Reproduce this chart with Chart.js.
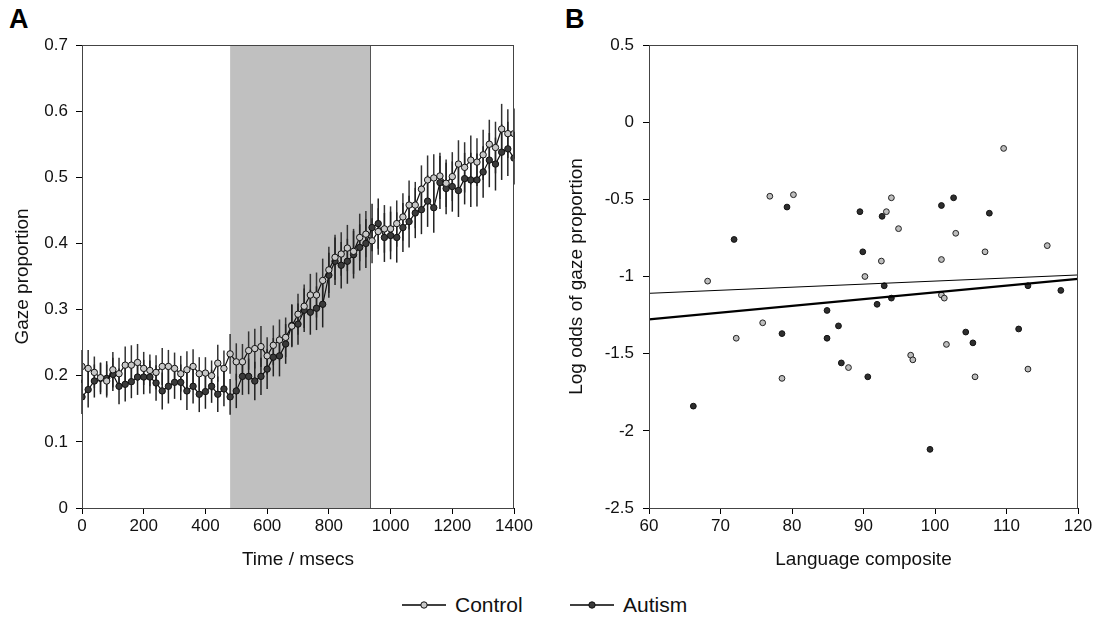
<!DOCTYPE html>
<html>
<head>
<meta charset="utf-8">
<script src="https://cdn.jsdelivr.net/npm/chart.js@4.4.1/dist/chart.umd.min.js"></script>
<style>
  body { margin: 0; background: #fff; width: 1101px; height: 617px; position: relative; overflow: hidden;
         font-family: "Liberation Sans", Arial, sans-serif; }
  .wrap { position: absolute; top: 0; height: 580px; }
  #wrapA { left: 0; width: 545px; }
  #wrapB { left: 550px; width: 551px; }
  .tag { position: absolute; top: 4px; font-weight: bold; font-size: 27px; color: #000; }
  .leg { position: absolute; top: 592px; height: 26px; display: flex; align-items: center; font-size: 21px; color: #111; }
  .leg svg { margin-right: 9px; }
</style>
</head>
<body>
<div class="tag" style="left:9px">A</div>
<div class="tag" style="left:565px">B</div>
<div class="wrap" id="wrapA"><canvas id="chartA"></canvas></div>
<div class="wrap" id="wrapB"><canvas id="chartB"></canvas></div>

<div class="leg" style="left:402px">
  <svg width="44" height="12"><line x1="0" y1="6" x2="44" y2="6" stroke="#000" stroke-width="1.5"/><circle cx="22" cy="6" r="3.2" fill="#c8c8c8" stroke="#111" stroke-width="1"/></svg>Control
</div>
<div class="leg" style="left:570px">
  <svg width="44" height="12"><line x1="0" y1="6" x2="44" y2="6" stroke="#000" stroke-width="1.5"/><circle cx="22" cy="6" r="3.2" fill="#3a3a3a" stroke="#111" stroke-width="1"/></svg>Autism
</div>

<script>
// ---- panel A: gaze proportion over time (20 ms bins) ----
const times = [];
for (let t = 0; t <= 1400; t += 20) times.push(t);

const controlGaze = [
  0.214, 0.211, 0.205, 0.197, 0.192, 0.209, 0.203, 0.216, 0.216, 0.220, 0.211, 0.208,
  0.205, 0.214, 0.214, 0.211, 0.203, 0.209, 0.214, 0.203, 0.204, 0.200, 0.219, 0.211,
  0.233, 0.221, 0.221, 0.238, 0.241, 0.244, 0.230, 0.246, 0.254, 0.258, 0.275, 0.293,
  0.305, 0.322, 0.322, 0.344, 0.360, 0.379, 0.384, 0.393, 0.388, 0.409, 0.414, 0.404,
  0.418, 0.422, 0.422, 0.430, 0.440, 0.458, 0.458, 0.482, 0.496, 0.499, 0.502, 0.491,
  0.501, 0.520, 0.515, 0.526, 0.523, 0.534, 0.550, 0.545, 0.573, 0.566, 0.566
];
const autismGaze = [
  0.168, 0.179, 0.192, 0.196, 0.196, 0.202, 0.184, 0.187, 0.191, 0.198, 0.198, 0.198,
  0.189, 0.177, 0.184, 0.190, 0.190, 0.177, 0.184, 0.172, 0.176, 0.184, 0.172, 0.180,
  0.168, 0.177, 0.199, 0.199, 0.192, 0.199, 0.210, 0.228, 0.230, 0.248, 0.276, 0.278,
  0.299, 0.296, 0.302, 0.308, 0.352, 0.373, 0.367, 0.373, 0.383, 0.394, 0.400, 0.424,
  0.430, 0.409, 0.412, 0.409, 0.424, 0.433, 0.446, 0.451, 0.464, 0.454, 0.492, 0.483,
  0.486, 0.480, 0.498, 0.496, 0.496, 0.508, 0.526, 0.520, 0.538, 0.543, 0.529
];
// standard errors (half-length of the bars)
const controlErr = [
  0.025, 0.028, 0.024, 0.022, 0.025, 0.027, 0.024, 0.028, 0.030, 0.028, 0.025, 0.024,
  0.026, 0.028, 0.025, 0.024, 0.027, 0.028, 0.026, 0.025, 0.024, 0.023, 0.028, 0.027,
  0.030, 0.028, 0.027, 0.029, 0.030, 0.031, 0.028, 0.030, 0.031, 0.030, 0.032, 0.031,
  0.033, 0.032, 0.034, 0.033, 0.035, 0.034, 0.033, 0.035, 0.034, 0.036, 0.035, 0.034,
  0.035, 0.036, 0.034, 0.035, 0.036, 0.037, 0.035, 0.036, 0.037, 0.036, 0.035, 0.036,
  0.037, 0.036, 0.038, 0.037, 0.036, 0.038, 0.037, 0.039, 0.038, 0.037, 0.038
];
const autismErr = [
  0.026, 0.027, 0.025, 0.024, 0.026, 0.025, 0.027, 0.026, 0.025, 0.027, 0.026, 0.025,
  0.027, 0.028, 0.026, 0.025, 0.027, 0.029, 0.026, 0.027, 0.026, 0.025, 0.027, 0.026,
  0.027, 0.026, 0.028, 0.027, 0.029, 0.028, 0.030, 0.029, 0.031, 0.030, 0.032, 0.031,
  0.033, 0.034, 0.033, 0.035, 0.034, 0.036, 0.035, 0.034, 0.036, 0.035, 0.037, 0.036,
  0.038, 0.037, 0.036, 0.038, 0.037, 0.039, 0.038, 0.037, 0.039, 0.038, 0.040, 0.039,
  0.038, 0.040, 0.039, 0.041, 0.040, 0.039, 0.041, 0.040, 0.042, 0.041, 0.040
];
const shadeStart = 480;
const shadeEnd = 935;

// ---- panel B: language composite vs log odds ----
const controlLang = [68.2, 76.9, 80.2, 72.2, 75.9, 78.6, 87.9, 109.6, 93.9, 93.2, 94.9, 102.9,
  115.7, 107.0, 92.5, 100.9, 90.2, 100.9, 101.3, 101.6, 96.6, 96.9, 113.0, 105.6];
const controlLogOdds = [-1.03, -0.48, -0.47, -1.40, -1.30, -1.66, -1.59, -0.17, -0.49, -0.58, -0.69, -0.72,
  -0.80, -0.84, -0.90, -0.89, -1.00, -1.12, -1.14, -1.44, -1.51, -1.54, -1.60, -1.65];
const autismLang = [71.9, 79.3, 89.5, 66.2, 78.6, 84.9, 86.5, 84.9, 86.9, 92.6, 100.9, 102.6,
  107.6, 89.9, 92.9, 113.0, 117.6, 93.9, 91.9, 104.3, 111.7, 105.3, 90.6, 99.3];
const autismLogOdds = [-0.76, -0.55, -0.58, -1.84, -1.37, -1.22, -1.32, -1.40, -1.56, -0.61, -0.54, -0.49,
  -0.59, -0.84, -1.06, -1.06, -1.09, -1.14, -1.18, -1.36, -1.34, -1.43, -1.65, -2.12];
const fitX = [60, 120];
const controlFit = [-1.109, -0.990];
const autismFit = [-1.278, -1.016];

const FONT = '"Liberation Sans", Arial, sans-serif';
Chart.defaults.font.family = FONT;
Chart.defaults.color = '#111';

const toXY = (xs, ys) => xs.map((x, i) => ({ x: x, y: ys[i] }));
const plainNum = v => String(Math.round(v * 10) / 10);

// frame around the plot area
const frame = {
  id: 'frame',
  afterDraw(chart) {
    const { ctx, chartArea: a } = chart;
    ctx.save();
    ctx.strokeStyle = '#444';
    ctx.lineWidth = 1;
    ctx.strokeRect(a.left + 0.5, a.top + 0.5, a.right - a.left - 1, a.bottom - a.top);
    ctx.restore();
  }
};

// grey window + error bars, drawn under the lines
const underlay = {
  id: 'underlay',
  beforeDatasetsDraw(chart) {
    const { ctx, chartArea: a, scales: { x, y } } = chart;
    ctx.save();
    const x0 = x.getPixelForValue(shadeStart), x1 = x.getPixelForValue(shadeEnd);
    ctx.fillStyle = '#c0c0c0';
    ctx.fillRect(x0, a.top, x1 - x0, a.bottom - a.top);
    ctx.strokeStyle = '#555';
    ctx.lineWidth = 1;
    ctx.beginPath();
    ctx.moveTo(x1, a.top); ctx.lineTo(x1, a.bottom);
    ctx.stroke();
    chart.data.datasets.forEach(ds => {
      if (!ds.errors) return;
      ctx.strokeStyle = ds.errColor;
      ctx.lineWidth = 1.5;
      ds.data.forEach((p, i) => {
        const px = x.getPixelForValue(p.x);
        ctx.beginPath();
        ctx.moveTo(px, y.getPixelForValue(p.y - ds.errors[i]));
        ctx.lineTo(px, y.getPixelForValue(p.y + ds.errors[i]));
        ctx.stroke();
      });
    });
    ctx.restore();
  }
};

function axis(opts) {
  return Object.assign({
    type: 'linear',
    border: { display: true, color: '#000', width: 1 },
    grid: { display: true, drawOnChartArea: false, color: '#000', tickLength: 6, tickWidth: 1 }
  }, opts);
}

new Chart(document.getElementById('chartA'), {
  type: 'line',
  data: {
    datasets: [
      {
        label: 'Control',
        data: toXY(times, controlGaze),
        errors: controlErr, errColor: '#333',
        borderColor: '#111', borderWidth: 1.2,
        pointRadius: 3.2, pointBackgroundColor: '#c8c8c8', pointBorderColor: '#111', pointBorderWidth: 1
      },
      {
        label: 'Autism',
        data: toXY(times, autismGaze),
        errors: autismErr, errColor: '#222',
        borderColor: '#111', borderWidth: 1.2,
        pointRadius: 3.2, pointBackgroundColor: '#3a3a3a', pointBorderColor: '#111', pointBorderWidth: 1
      }
    ]
  },
  options: {
    responsive: true, maintainAspectRatio: false, animation: false,
    layout: { padding: { left: 0, right: 31, top: 45, bottom: 0 } },
    plugins: { legend: { display: false }, tooltip: { enabled: false } },
    scales: {
      x: axis({
        min: 0, max: 1400,
        ticks: { stepSize: 200, font: { size: 17 }, color: '#111', padding: 2, maxRotation: 0, callback: plainNum },
        title: { display: true, text: 'Time / msecs', font: { size: 19 }, color: '#111', padding: { top: 0, bottom: 9 } },
        afterFit: s => { s.height = 72; }
      }),
      y: axis({
        min: 0, max: 0.7,
        ticks: { stepSize: 0.1, font: { size: 17 }, color: '#111', padding: 8, callback: plainNum },
        title: { display: true, text: 'Gaze proportion', font: { size: 19 }, color: '#111', padding: { top: 11, bottom: 0 } },
        afterFit: s => { s.width = 82; }
      })
    }
  },
  plugins: [underlay, frame]
});

new Chart(document.getElementById('chartB'), {
  type: 'scatter',
  data: {
    datasets: [
      {
        label: 'Control fit', type: 'line', data: toXY(fitX, controlFit),
        borderColor: '#000', borderWidth: 1, pointRadius: 0
      },
      {
        label: 'Autism fit', type: 'line', data: toXY(fitX, autismFit),
        borderColor: '#000', borderWidth: 2.3, pointRadius: 0
      },
      {
        label: 'Control', data: toXY(controlLang, controlLogOdds),
        pointRadius: 2.9, backgroundColor: '#bdbdbd', borderColor: '#222', borderWidth: 1
      },
      {
        label: 'Autism', data: toXY(autismLang, autismLogOdds),
        pointRadius: 2.9, backgroundColor: '#2e2e2e', borderColor: '#111', borderWidth: 1
      }
    ]
  },
  options: {
    responsive: true, maintainAspectRatio: false, animation: false,
    layout: { padding: { left: 0, right: 23, top: 45, bottom: 0 } },
    plugins: { legend: { display: false }, tooltip: { enabled: false } },
    scales: {
      x: axis({
        min: 60, max: 120,
        ticks: { stepSize: 10, font: { size: 17 }, color: '#111', padding: 2, maxRotation: 0, callback: plainNum },
        title: { display: true, text: 'Language composite', font: { size: 19 }, color: '#111', padding: { top: 0, bottom: 9 } },
        afterFit: s => { s.height = 72; }
      }),
      y: axis({
        min: -2.5, max: 0.5,
        ticks: { stepSize: 0.5, font: { size: 17 }, color: '#111', padding: 9, callback: plainNum },
        title: { display: true, text: 'Log odds of gaze proportion', font: { size: 19 }, color: '#111', padding: { top: 15, bottom: 0 } },
        afterFit: s => { s.width = 99; }
      })
    }
  },
  plugins: [frame]
});
</script>
</body>
</html>
